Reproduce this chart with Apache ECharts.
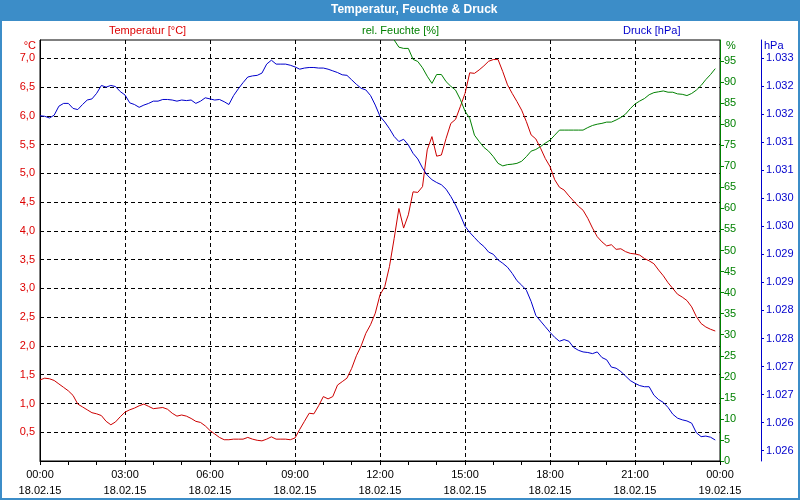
<!DOCTYPE html>
<html>
<head>
<meta charset="utf-8">
<title>Temperatur, Feuchte & Druck</title>
<script src="https://cdn.jsdelivr.net/npm/echarts@6.0.0/dist/echarts.min.js"></script>
<style>
  html, body { margin: 0; padding: 0; background: #fff; }
  #chart { width: 800px; height: 500px; }
</style>
</head>
<body>
<div id="chart"></div>
<script>
// Messwerte alle 10 Minuten, 18.02.15 00:00 bis 23:50
var stepMinutes = 10

var temperature = [
  1.41, 1.44, 1.43, 1.40, 1.34, 1.28, 1.22, 1.14, 0.99, 0.94,
  0.89, 0.84, 0.82, 0.79, 0.69, 0.63, 0.68, 0.77, 0.85, 0.89,
  0.92, 0.96, 0.99, 0.95, 0.91, 0.92, 0.93, 0.90, 0.83, 0.78,
  0.80, 0.78, 0.74, 0.69, 0.67, 0.61, 0.53, 0.47, 0.41, 0.37,
  0.37, 0.38, 0.38, 0.38, 0.41, 0.38, 0.36, 0.35, 0.38, 0.42,
  0.38, 0.38, 0.38, 0.37, 0.40, 0.55, 0.69, 0.83, 0.82, 0.96,
  1.12, 1.08, 1.12, 1.32, 1.38, 1.44, 1.61, 1.83, 2.00, 2.22,
  2.37, 2.57, 2.89, 3.03, 3.38, 3.87, 4.39, 4.05, 4.28, 4.68,
  4.67, 4.77, 5.41, 5.64, 5.30, 5.32, 5.61, 5.87, 5.94, 6.16,
  6.39, 6.75, 6.74, 6.80, 6.87, 6.95, 6.98, 6.98, 6.77, 6.54,
  6.39, 6.25, 6.10, 5.90, 5.67, 5.60, 5.44, 5.26, 5.12, 4.89,
  4.76, 4.71, 4.61, 4.52, 4.43, 4.36, 4.22, 4.05, 3.90, 3.81,
  3.74, 3.76, 3.68, 3.69, 3.64, 3.61, 3.60, 3.58, 3.52, 3.48,
  3.43, 3.32, 3.22, 3.10, 3.00, 2.90, 2.85, 2.79, 2.68, 2.51,
  2.39, 2.33, 2.29, 2.26
]

// Feuchte erst ab 12:30 im sichtbaren Bereich
var humidityStart = 750
var humidity = [
  100.0, 98.3, 98.0, 98.0, 95.4, 94.9, 93.4, 91.4, 89.7, 91.8, 91.8, 90.1,
  89.0, 88.1, 85.9, 83.1, 81.4, 77.4, 75.9, 74.5, 73.6, 72.3, 70.7, 70.1,
  70.4, 70.5, 70.7, 71.2, 72.3, 73.6, 74.0, 74.7, 75.5, 76.2, 77.4, 78.6,
  78.6, 78.6, 78.6, 78.6, 78.6,
  79.2, 79.7, 80.0, 80.2, 80.5, 80.5, 81.0, 81.6, 82.4, 83.7, 84.8, 85.5,
  86.1, 87.0, 87.5, 87.7, 87.9, 87.6, 87.6, 87.2, 87.1, 86.8, 87.3, 88.1,
  89.2, 90.6, 91.8, 93.2
]

var pressure = [
  1031.97, 1031.96, 1031.93, 1031.98, 1032.14, 1032.19, 1032.19, 1032.10, 1032.08, 1032.17,
  1032.25, 1032.27, 1032.37, 1032.51, 1032.48, 1032.51, 1032.49, 1032.40, 1032.34, 1032.20,
  1032.17, 1032.12, 1032.16, 1032.19, 1032.23, 1032.23, 1032.26, 1032.26, 1032.25, 1032.23,
  1032.25, 1032.24, 1032.25, 1032.19, 1032.23, 1032.29, 1032.27, 1032.25, 1032.26, 1032.22,
  1032.17, 1032.33, 1032.45, 1032.56, 1032.66, 1032.68, 1032.69, 1032.73, 1032.89, 1032.96,
  1032.89, 1032.89, 1032.89, 1032.87, 1032.84, 1032.80, 1032.82, 1032.83, 1032.83, 1032.82,
  1032.82, 1032.80, 1032.77, 1032.74, 1032.70, 1032.69, 1032.61, 1032.53, 1032.46, 1032.43,
  1032.33, 1032.16, 1031.96, 1031.86, 1031.74, 1031.60, 1031.51, 1031.55, 1031.45, 1031.30,
  1031.20, 1031.04, 1030.91, 1030.83, 1030.78, 1030.74, 1030.66, 1030.53, 1030.38, 1030.20,
  1030.00, 1029.89, 1029.80, 1029.71, 1029.64, 1029.54, 1029.50, 1029.40, 1029.34, 1029.27,
  1029.16, 1029.03, 1028.95, 1028.86, 1028.66, 1028.41, 1028.31, 1028.21, 1028.11, 1028.02,
  1027.95, 1027.98, 1027.95, 1027.84, 1027.79, 1027.76, 1027.75, 1027.73, 1027.76, 1027.66,
  1027.62, 1027.49, 1027.47, 1027.41, 1027.33, 1027.25, 1027.20, 1027.16, 1027.14, 1027.14,
  1026.99, 1026.91, 1026.86, 1026.77, 1026.65, 1026.58, 1026.55, 1026.53, 1026.49, 1026.32,
  1026.25, 1026.26, 1026.24, 1026.19
]

var timeLabels = ['00:00', '03:00', '06:00', '09:00', '12:00', '15:00', '18:00', '21:00', '00:00']
var dateLabels = ['18.02.15', '18.02.15', '18.02.15', '18.02.15', '18.02.15', '18.02.15', '18.02.15', '18.02.15', '19.02.15']
var pressureTicks = [1026, 1026.5, 1027, 1027.5, 1028, 1028.5, 1029, 1029.5, 1030, 1030.5, 1031, 1031.5, 1032, 1032.5, 1033]

var frameColor = '#3c8dc8'
var fontFamily = 'Liberation Sans'
var dash = [4, 3]

var chart = echarts.init(document.getElementById('chart'))

chart.setOption({
  animation: false,
  textStyle: { fontFamily: fontFamily },
  graphic: [
    { type: 'rect', z: 0, silent: true, shape: { x: 0, y: 0, width: 800, height: 21 }, style: { fill: frameColor } },
    { type: 'rect', z: 0, silent: true, shape: { x: 1, y: 1, width: 798, height: 498 }, style: { fill: null, stroke: frameColor, lineWidth: 2 } }
  ],
  title: {
    text: 'Temperatur, Feuchte & Druck',
    left: 331,
    top: 4,
    padding: 0,
    z: 10,
    textStyle: { color: '#fff', fontWeight: 'bold', fontSize: 12, fontFamily: fontFamily }
  },
  legend: [
    { data: ['Temperatur [°C]'], left: 104, top: 24, padding: 0, itemWidth: 0, itemGap: 0, icon: 'none', selectedMode: false,
      textStyle: { color: '#dd0000', fontSize: 11 } },
    { data: ['rel. Feuchte [%]'], left: 357, top: 24, padding: 0, itemWidth: 0, itemGap: 0, icon: 'none', selectedMode: false,
      textStyle: { color: '#008000', fontSize: 11 } },
    { data: ['Druck [hPa]'], left: 618, top: 24, padding: 0, itemWidth: 0, itemGap: 0, icon: 'none', selectedMode: false,
      textStyle: { color: '#0000cc', fontSize: 11 } }
  ],
  grid: {
    left: 40,
    right: 80,
    top: 40,
    bottom: 39,
    show: true,
    backgroundColor: '#fff',
    borderColor: '#000',
    borderWidth: 1
  },
  xAxis: {
    type: 'value',
    min: 0,
    max: 1440,
    interval: 180,
    axisLine: { lineStyle: { color: '#000' } },
    axisTick: { length: 4, lineStyle: { color: '#000' } },
    minorTick: { show: true, splitNumber: 3, length: 4, lineStyle: { color: '#000' } },
    splitLine: { show: true, showMinLine: false, showMaxLine: false, lineStyle: { color: '#000', type: dash } },
    axisLabel: {
      color: '#000',
      fontSize: 11,
      lineHeight: 16,
      margin: 6,
      formatter: function (v) {
        var k = Math.round(v / 180)
        return timeLabels[k] + '\n' + dateLabels[k]
      }
    }
  },
  yAxis: [
    {
      type: 'value',
      position: 'left',
      min: 0,
      max: 7.32,
      interval: 0.5,
      name: '°C',
      nameLocation: 'end',
      nameGap: 0,
      nameTextStyle: { color: '#dd0000', fontSize: 11, align: 'right', verticalAlign: 'top', padding: [0, 4, 0, 0] },
      axisLine: { show: true, lineStyle: { color: '#000' } },
      axisTick: { show: false },
      axisLabel: {
        color: '#dd0000',
        fontSize: 11,
        margin: 5,
        showMinLabel: false,
        showMaxLabel: false,
        formatter: function (v) { return v.toFixed(1).replace('.', ',') }
      },
      splitLine: { show: true, showMinLine: false, showMaxLine: false, lineStyle: { color: '#000', type: dash } }
    },
    {
      type: 'value',
      position: 'right',
      min: 0,
      max: 100,
      interval: 5,
      name: '%',
      nameLocation: 'end',
      nameGap: 0,
      nameTextStyle: { color: '#008000', fontSize: 11, align: 'left', verticalAlign: 'top', padding: [0, 0, 0, 6] },
      axisLine: { show: true, lineStyle: { color: '#008000' } },
      axisTick: { show: true, length: 4, lineStyle: { color: '#008000' } },
      axisLabel: { color: '#008000', fontSize: 11, margin: 4, showMaxLabel: false },
      splitLine: { show: false }
    },
    {
      type: 'value',
      position: 'right',
      offset: 41,
      min: 1025.816,
      max: 1033.32,
      name: 'hPa',
      nameLocation: 'end',
      nameGap: 0,
      nameTextStyle: { color: '#0000cc', fontSize: 11, align: 'left', verticalAlign: 'top', padding: [0, 0, 0, 3] },
      axisLine: { show: true, lineStyle: { color: '#0000cc' } },
      axisTick: { show: true, length: 3, customValues: pressureTicks, lineStyle: { color: '#0000cc' } },
      axisLabel: {
        color: '#0000cc',
        fontSize: 11,
        margin: 5,
        customValues: pressureTicks,
        formatter: function (v) { return (Math.floor(v + 1e-6) / 1000).toFixed(3) }
      },
      splitLine: { show: false }
    }
  ],
  series: [
    {
      name: 'Temperatur [°C]',
      type: 'line',
      yAxisIndex: 0,
      symbol: 'none',
      silent: true,
      color: '#cc0000',
      lineStyle: { color: '#cc0000', width: 1 },
      data: temperature.map(function (v, i) { return [i * stepMinutes, v] })
    },
    {
      name: 'rel. Feuchte [%]',
      type: 'line',
      yAxisIndex: 1,
      symbol: 'none',
      silent: true,
      color: '#008000',
      lineStyle: { color: '#008000', width: 1 },
      data: humidity.map(function (v, i) { return [humidityStart + i * stepMinutes, v] })
    },
    {
      name: 'Druck [hPa]',
      type: 'line',
      yAxisIndex: 2,
      symbol: 'none',
      silent: true,
      color: '#0000cc',
      lineStyle: { color: '#0000cc', width: 1 },
      data: pressure.map(function (v, i) { return [i * stepMinutes, v] })
    }
  ]
})
</script>
</body>
</html>
